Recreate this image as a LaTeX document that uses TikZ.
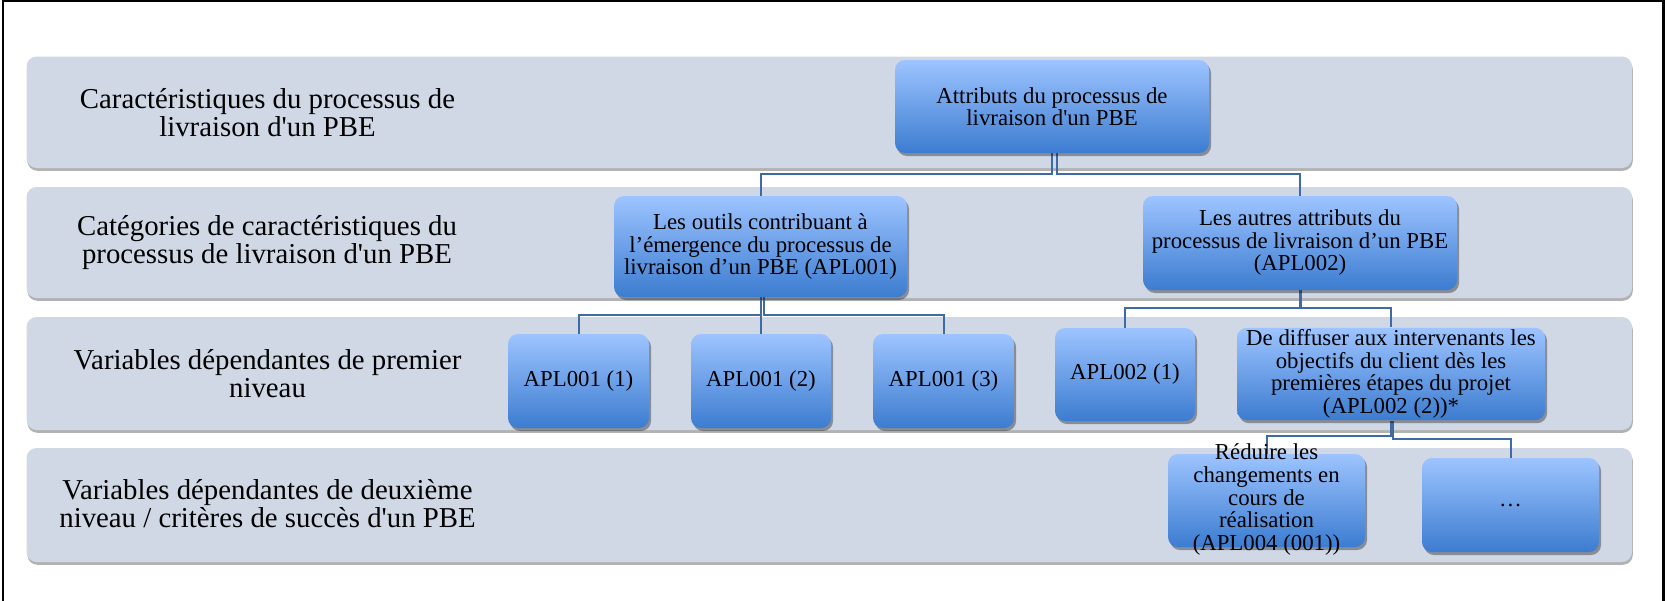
\documentclass[tikz,border=0pt]{standalone}
\usepackage{fontspec}
\setmainfont{Liberation Serif}[Ligatures=TeXOff]
\usetikzlibrary{shadows}
\pgfdeclarelayer{bg}
\pgfdeclarelayer{mid}
\pgfsetlayers{bg,mid,main}
\definecolor{bandcol}{RGB}{208,216,230}
\definecolor{boxtop}{RGB}{157,196,255}
\definecolor{boxbot}{RGB}{60,124,208}
\definecolor{linecol}{RGB}{62,106,166}
\begin{document}
\begin{tikzpicture}[x=0.5pt,y=-0.5pt,
  band/.style={fill=bandcol, rounded corners=5pt, draw=none, inner sep=0pt,
    drop shadow={shadow xshift=0.4pt, shadow yshift=-1.4pt, opacity=0.3, fill=black}},
  bandlabel/.style={align=center, font=\fontsize{14.4pt}{14pt}\selectfont, inner sep=0pt},
  boxbase/.style={rounded corners=5pt, top color=boxtop, bottom color=boxbot, draw=none,
    inner sep=1pt, font=\fontsize{11.4pt}{11.25pt}\selectfont,
    drop shadow={shadow xshift=1pt, shadow yshift=-1.5pt, opacity=0.35, fill=black}},
  bluebox/.style={boxbase, align=center},
  conn/.style={draw=linecol, line width=1pt}]
\useasboundingbox (0,0) rectangle (1668,600);
\begin{pgfonlayer}{bg}
\fill[white] (0,0) rectangle (1668,600);
\draw[line width=1.2pt] (3,602) -- (3,1.2) -- (1663.5,1.2) -- (1663.5,602);
% bands
\node[band, minimum width=802.7pt, minimum height=55.75pt] (R1) at (829.3,112.25) {};
\node[band, minimum width=802.7pt, minimum height=55.5pt] (R2) at (829.3,242.5) {};
\node[band, minimum width=802.7pt, minimum height=56.5pt] (R3) at (829.3,373.5) {};
\node[band, minimum width=802.7pt, minimum height=57pt] (R4) at (829.3,505) {};
\end{pgfonlayer}

% band labels
\node[bandlabel] (L1) at (267.5,112.5) {Caractéristiques du processus de\\livraison d'un PBE};
\node[bandlabel] (L2) at (267,243) {Catégories de caractéristiques du\\processus de livraison d'un PBE};
\node[bandlabel] (L3) at (267.5,373.5) {Variables dépendantes de premier\\niveau};
\node[bandlabel] (L4) at (267.5,504) {Variables dépendantes de deuxième\\niveau / critères de succès d'un PBE};

% boxes
\node[bluebox, minimum width=157pt, minimum height=46.5pt] (A) at (1052,106.5) {Attributs du processus de\\livraison d'un PBE};
\node[bluebox, minimum width=146.5pt, minimum height=50.5pt] (B) at (760.5,246.5) {Les outils contribuant à\\l’émergence du processus de\\livraison d’un PBE (APL001)};
\node[bluebox, minimum width=157pt, minimum height=47pt] (C) at (1300,243) {Les autres attributs du\\processus de livraison d’un PBE\\(APL002)};
\node[bluebox, minimum width=70.5pt, minimum height=47pt] (D1) at (578.5,381) {APL001 (1)};
\node[bluebox, minimum width=70pt, minimum height=47pt] (D2) at (761,381) {APL001 (2)};
\node[bluebox, minimum width=70.5pt, minimum height=47pt] (D3) at (943.5,381) {APL001 (3)};
\node[bluebox, minimum width=70pt, minimum height=46.5pt] (E1) at (1125,374.5) {APL002 (1)};
\node[bluebox, minimum width=154pt, minimum height=46pt] (E2) at (1391,374) {De diffuser aux intervenants les\\objectifs du client dès les\\premières étapes du projet\\(APL002 (2))*};
\node[boxbase, minimum width=98.5pt, minimum height=46.5pt] (F1) at (1266.5,500.5) {\vbox to 0pt{\vss\hbox{\begin{tabular}{@{}c@{}}Réduire les\\changements en\\cours de\\réalisation\\(APL004 (001))\end{tabular}}\vss}};
\node[boxbase, minimum width=88.5pt, minimum height=47pt] (F2) at (1510.5,505) {…};

% junction levels
\coordinate (jA) at (0,174);
\coordinate (jB) at (0,315);
\coordinate (jC) at (0,308);
\coordinate (jE1) at (0,436);
\coordinate (jE2) at (0,439);

% connectors
\begin{pgfonlayer}{mid}
\draw[conn] (A.south) |- (B.north |- jA) -- (B.north);
\draw[conn] ([xshift=2.5pt]A.south) |- (C.north |- jA) -- (C.north);
\draw[conn] (B.south) |- (D1.north |- jB) -- (D1.north);
\draw[conn] (B.south) |- (D2.north |- jB) -- (D2.north);
\draw[conn] ([xshift=1.5pt]B.south) |- (D3.north |- jB) -- (D3.north);
\draw[conn] (C.south) |- (E1.north |- jC) -- (E1.north);
\draw[conn] ([xshift=0.7pt]C.south) |- (E2.north |- jC) -- (E2.north);
\draw[conn] (E2.south) |- (F1.north |- jE1) -- (F1.north);
\draw[conn] ([xshift=1.1pt]E2.south) |- (F2.north |- jE2) -- (F2.north);
\end{pgfonlayer}
\end{tikzpicture}
\end{document}
